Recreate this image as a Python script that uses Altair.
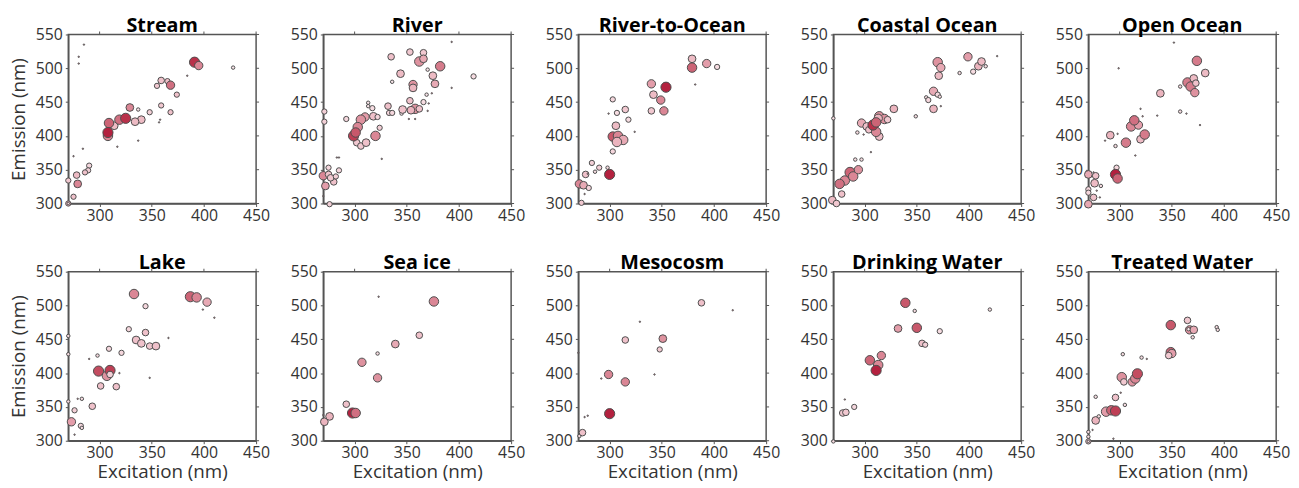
import altair as alt
import pandas as pd

# ---------------- data (excitation nm, emission nm, frequency, colour share) ----------------
STREAM_EX = [285, 280, 280, 284, 275, 317, 337, 358, 357, 384, 337, 428, 290, 289, 270, 275, 270, 270, 278, 279, 286,
             355, 359, 365, 368, 374, 359, 368, 348, 340, 334, 329, 314, 309, 319, 325, 308, 308, 391, 395]
STREAM_EM = [535, 517, 507, 381, 370, 384, 393, 424, 420, 489, 439, 501, 356, 349, 334, 310, 300, 300, 342, 329, 346,
             474, 482, 481, 475, 461, 445, 435, 435, 424, 421, 442, 415, 419, 424, 426, 400, 405, 509, 504]
STREAM_N = [1, 1, 1, 1, 1, 1, 1, 1, 1, 1, 6, 6, 14, 14, 14, 14, 14, 3, 22, 30, 14,
            14, 22, 14, 35, 14, 14, 14, 14, 30, 30, 30, 30, 45, 45, 52, 45, 52, 52, 35]
STREAM_C = [.5, .5, .5, .5, .5, .5, .5, .5, .5, .5, .05, .05, .15, .2, .25, .3, .4, .1, .35, .6, .3,
            .25, .3, .3, .7, .3, .25, .3, .2, .35, .35, .6, .35, .75, .7, .95, .6, 1.0, .95, .6]

RIVER_EX = [270, 283, 285, 326, 352, 358, 371, 374, 370, 393, 393, 271, 271, 276, 275, 285, 292,
            270, 272, 275, 280, 277, 282, 302, 306, 311, 318, 324, 322, 313, 313, 317,
            310, 306, 303, 299, 301, 320, 332, 333, 336, 345, 346, 353, 358, 354, 362,
            335, 344, 336, 353, 366, 362, 366, 356, 356, 370, 375, 377, 382, 369, 366, 414]
RIVER_EM = [311, 368, 368, 366, 425, 425, 448, 463, 437, 539, 471, 436, 421, 299, 353, 349, 425,
            341, 326, 343, 332, 338, 340, 390, 385, 390, 429, 412, 428, 449, 444, 441,
            428, 424, 413, 400, 405, 400, 444, 434, 434, 433, 439, 452, 440, 438, 440,
            517, 492, 480, 524, 523, 510, 514, 476, 471, 498, 489, 477, 503, 461, 450, 488]
RIVER_N = [1, 1, 1, 1, 1, 1, 1, 1, 1, 1, 1, 14, 14, 14, 14, 14, 14,
           35, 30, 22, 22, 22, 14, 22, 22, 30, 30, 14, 14, 6, 6, 14,
           35, 45, 45, 52, 45, 45, 22, 14, 14, 6, 30, 22, 45, 30, 22,
           22, 30, 6, 22, 22, 45, 30, 35, 30, 6, 30, 30, 45, 6, 14, 14]
RIVER_C = [.5, .5, .5, .5, .5, .5, .5, .5, .5, .5, .5, .2, .2, .2, .15, .15, .15,
           .6, .5, .3, .3, .25, .2, .25, .25, .3, .3, .2, .15, .05, .05, .1,
           .5, .55, .6, .9, .8, .6, .3, .15, .15, .05, .3, .3, .55, .4, .3,
           .3, .35, .05, .25, .25, .55, .45, .55, .4, .05, .35, .45, .65, .05, .1, .1]

R2O_EX = [273, 276, 271, 275, 280, 277, 279, 283, 286, 290, 298, 300, 303, 303, 308, 313, 307, 306,
          307, 299, 303, 315, 318, 324, 340, 352, 349, 342, 340, 354, 382, 379, 379, 393, 403]
R2O_EM = [301, 314, 329, 327, 323, 343, 344, 360, 347, 353, 353, 343, 377, 399, 400, 394, 391, 415,
          434, 433, 454, 439, 424, 406, 437, 437, 453, 461, 477, 472, 476, 501, 514, 507, 502]
R2O_N = [14, 1, 35, 30, 14, 22, 1, 14, 6, 14, 6, 52, 14, 45, 45, 45, 45, 30,
         14, 1, 14, 22, 14, 1, 22, 35, 35, 30, 35, 52, 1, 45, 30, 35, 14]
R2O_C = [.25, .5, .6, .45, .15, .3, .5, .2, .1, .2, .1, 1.0, .15, .8, .6, .45, .4, .35,
         .1, .5, .15, .25, .1, .5, .25, .6, .6, .35, .5, 1.0, .5, .75, .35, .5, .1]

COAST_EX = [270, 269, 273, 278, 281, 276, 286, 289, 294, 291, 297, 293, 299, 306, 297, 302, 304, 314,
            311, 314, 319, 322, 313, 308, 311, 328, 349, 359, 361, 366, 366, 370, 372, 373,
            370, 373, 371, 391, 399, 404, 409, 412, 416, 427]
COAST_EM = [426, 305, 300, 314, 334, 329, 346, 340, 350, 365, 365, 405, 402, 376, 419, 414, 409, 399,
            406, 429, 425, 424, 426, 416, 420, 440, 429, 457, 453, 466, 440, 461, 458, 444,
            509, 501, 489, 493, 517, 495, 503, 510, 503, 518]
COAST_N = [6, 30, 22, 22, 45, 45, 52, 45, 35, 6, 6, 6, 1, 1, 35, 30, 22, 30,
           45, 45, 45, 22, 35, 52, 45, 30, 6, 6, 14, 35, 30, 14, 6, 1,
           45, 35, 30, 6, 35, 14, 30, 30, 6, 1]
COAST_C = [.1, .35, .25, .3, .6, .7, .75, .6, .55, .1, .1, .1, .5, .5, .45, .3, .3, .35,
           .6, .55, .55, .25, .4, .95, .75, .4, .1, .1, .15, .45, .4, .15, .1, .5,
           .55, .45, .35, .1, .5, .1, .4, .35, .1, .5]

OPEN_EX = [270, 270, 270, 270, 275, 277, 276, 282, 278, 275, 281, 297, 296, 286, 291, 298, 299, 296,
           298, 306, 311, 318, 314, 320, 324, 320, 322, 315, 336, 339, 352, 358, 364, 358,
           365, 368, 371, 373, 372, 374, 382, 377]
OPEN_EM = [299, 321, 316, 343, 346, 341, 330, 326, 319, 309, 309, 353, 385, 393, 401, 403, 500, 343,
           337, 390, 414, 416, 423, 395, 402, 440, 429, 371, 430, 463, 538, 436, 433, 473,
           479, 473, 485, 478, 464, 511, 493, 416]
OPEN_N = [30, 14, 14, 30, 1, 22, 30, 6, 1, 22, 1, 14, 6, 1, 30, 1, 1, 52,
          45, 45, 45, 35, 45, 30, 45, 1, 1, 1, 1, 30, 1, 6, 1, 6,
          45, 45, 30, 22, 35, 45, 30, 1]
OPEN_C = [.45, .15, .15, .45, .5, .3, .35, .1, .5, .3, .5, .15, .1, .5, .4, .5, .5, 1.0,
          .75, .65, .6, .5, .7, .35, .65, .5, .5, .5, .5, .4, .5, .1, .5, .1,
          .65, .65, .35, .3, .55, .65, .35, .5]

LAKE_EX = [270, 270, 270, 276, 273, 282, 283, 276, 279, 283, 290, 293, 298, 299, 301, 309, 307, 310,
           310, 319, 316, 321, 328, 333, 344, 344, 335, 340, 348, 354, 348, 366, 387, 393, 403, 399, 410]
LAKE_EM = [455, 428, 358, 345, 328, 322, 319, 309, 362, 362, 421, 351, 426, 403, 381, 436, 396, 404,
           398, 400, 380, 430, 465, 517, 499, 460, 449, 444, 440, 440, 393, 452, 513, 512, 505, 494, 482]
LAKE_N = [6, 6, 6, 14, 35, 14, 6, 1, 1, 6, 1, 22, 6, 52, 22, 14, 45, 52,
          22, 1, 22, 14, 14, 45, 14, 22, 30, 30, 22, 30, 1, 1, 52, 45, 35, 1, 1]
LAKE_C = [.1, .1, .1, .2, .5, .15, .1, .5, .5, .1, .5, .3, .1, .85, .3, .15, .55, .9,
          .2, .5, .3, .15, .15, .6, .15, .3, .3, .3, .25, .3, .5, .5, .75, .6, .45, .5, .5]

ICE_EX = [270, 271, 276, 292, 298, 301, 307, 322, 322, 323, 339, 362, 376]
ICE_EM = [338, 328, 336, 354, 341, 341, 416, 393, 429, 513, 443, 456, 506]
ICE_N = [1, 30, 30, 22, 52, 45, 35, 35, 6, 1, 30, 22, 45]
ICE_C = [.5, .4, .4, .3, 1.0, .7, .55, .55, .1, .5, .45, .3, .6]

MESO_EX = [270, 271, 274, 276, 279, 292, 299, 300, 315, 315, 329, 343, 348, 351, 388, 418]
MESO_EM = [430, 307, 312, 335, 337, 392, 398, 340, 387, 449, 476, 398, 435, 451, 504, 493]
MESO_N = [1, 6, 22, 1, 1, 1, 35, 52, 35, 22, 1, 1, 14, 30, 22, 1]
MESO_C = [.5, .1, .3, .5, .5, .5, .6, 1.0, .6, .3, .5, .5, .25, .55, .3, .5]

DRINK_EX = [270, 279, 282, 281, 290, 305, 313, 311, 316, 332, 339, 348, 350, 355, 358, 372, 420]
DRINK_EM = [299, 341, 342, 361, 350, 419, 412, 404, 426, 466, 504, 492, 467, 444, 442, 462, 494]
DRINK_N = [6, 22, 22, 1, 14, 45, 45, 52, 35, 30, 45, 6, 45, 22, 14, 14, 6]
DRINK_C = [.1, .25, .25, .5, .15, .75, .6, 1.0, .6, .5, .8, .1, .8, .3, .2, .1, .1]

TREAT_EX = [270, 270, 274, 270, 270, 277, 280, 277, 294, 287, 292, 296, 296, 301, 305, 302, 304, 303,
            312, 315, 317, 321, 326, 349, 349, 350, 347, 365, 367, 371, 366, 370, 393, 394]
TREAT_EM = [306, 313, 316, 299, 299, 330, 336, 365, 303, 343, 345, 344, 364, 371, 353, 394, 387, 428,
            387, 392, 399, 423, 421, 471, 431, 429, 426, 478, 464, 464, 465, 453, 468, 464]
TREAT_N = [6, 6, 1, 14, 3, 30, 6, 6, 1, 45, 45, 52, 22, 1, 6, 45, 22, 6,
           35, 45, 52, 6, 1, 45, 45, 35, 22, 22, 35, 30, 6, 6, 6, 6]
TREAT_C = [.1, .1, .5, .25, .1, .4, .1, .1, .5, .5, .75, .9, .3, .5, .1, .55, .25, .1,
           .55, .6, .85, .1, .5, .8, .75, .5, .25, .25, .55, .45, .05, .1, .1, .1]

PANELS = [
    ("Stream", STREAM_EX, STREAM_EM, STREAM_N, STREAM_C),
    ("River", RIVER_EX, RIVER_EM, RIVER_N, RIVER_C),
    ("River-to-Ocean", R2O_EX, R2O_EM, R2O_N, R2O_C),
    ("Coastal Ocean", COAST_EX, COAST_EM, COAST_N, COAST_C),
    ("Open Ocean", OPEN_EX, OPEN_EM, OPEN_N, OPEN_C),
    ("Lake", LAKE_EX, LAKE_EM, LAKE_N, LAKE_C),
    ("Sea ice", ICE_EX, ICE_EM, ICE_N, ICE_C),
    ("Mesocosm", MESO_EX, MESO_EM, MESO_N, MESO_C),
    ("Drinking Water", DRINK_EX, DRINK_EM, DRINK_N, DRINK_C),
    ("Treated Water", TREAT_EX, TREAT_EM, TREAT_N, TREAT_C),
]

X_TICKS = [300, 350, 400, 450]
Y_TICKS = [300, 350, 400, 450, 500, 550]

FONT = "Open Sans"
W, H = 190, 171
xs = alt.Scale(domain=[270, 450], nice=False, zero=False)
ys = alt.Scale(domain=[300, 550], nice=False, zero=False)
size_scale = alt.Scale(domain=[0, 52], range=[0, 106])
color_scale = alt.Scale(domain=[0, 0.4, 0.7, 1.0],
                        range=["#f9eaed", "#ebb4be", "#d06f81", "#b3213f"])
xt_df = pd.DataFrame({"t": X_TICKS})
yt_df = pd.DataFrame({"t": Y_TICKS})


def panel(name, ex, em, n, c, first_col, bottom_row):
    df = pd.DataFrame({"ex": ex, "em": em, "n": n, "c": c})
    df["order"] = range(len(df))
    x_axis = alt.Axis(values=X_TICKS, labelOverlap=False,
                      title="Excitation (nm)" if bottom_row else None)
    y_axis = alt.Axis(values=Y_TICKS, labelOverlap=False,
                      title="Emission (nm)" if first_col else None)
    pts = alt.Chart(df).mark_circle(stroke="#4d4d4d", strokeWidth=1, opacity=1).encode(
        x=alt.X("ex:Q", scale=xs, axis=x_axis),
        y=alt.Y("em:Q", scale=ys, axis=y_axis),
        size=alt.Size("n:Q", scale=size_scale, legend=None),
        color=alt.Color("c:Q", scale=color_scale, legend=None),
        order=alt.Order("order:Q"),
    )
    top_ticks = alt.Chart(xt_df).mark_rule(color="#555555", strokeWidth=1).encode(
        x=alt.X("t:Q", scale=xs, axis=x_axis), y=alt.value(0), y2=alt.value(-3)
    )
    right_ticks = alt.Chart(yt_df).mark_rule(color="#555555", strokeWidth=1).encode(
        y=alt.Y("t:Q", scale=ys, axis=y_axis), x=alt.value(W), x2=alt.value(W + 3)
    )
    return alt.layer(pts, top_ticks, right_ticks).properties(
        width=W, height=H, title=alt.Title(name)
    )


rows = []
for r in range(2):
    charts = []
    for k in range(5):
        name, ex, em, n, c = PANELS[r * 5 + k]
        charts.append(panel(name, ex, em, n, c, k == 0, r == 1))
    rows.append(alt.hconcat(*charts, spacing=18))

chart = alt.vconcat(*rows, spacing=28).properties(
    padding={"top": 4, "left": 0, "right": 0, "bottom": 0}
).configure_view(
    stroke="#555555", strokeWidth=1.5
).configure_axis(
    grid=False,
    labelFont=FONT, labelFontSize=16, labelColor="#333333", labelPadding=3,
    titleFont=FONT, titleFontSize=19, titleFontWeight="normal", titleColor="#333333",
    tickColor="#555555", tickSize=3, domainColor="#555555", domainWidth=1.5,
    labelFlush=False, labelOverlap=False,
).configure_axisLeft(titlePadding=7).configure_axisBottom(labelPadding=1, titlePadding=2).configure_title(
    font=FONT, fontSize=20, fontWeight="bold", color="#000000", offset=-9, anchor="middle"
)

chart.save("out.html", embed_options={"renderer": "svg", "actions": False})
